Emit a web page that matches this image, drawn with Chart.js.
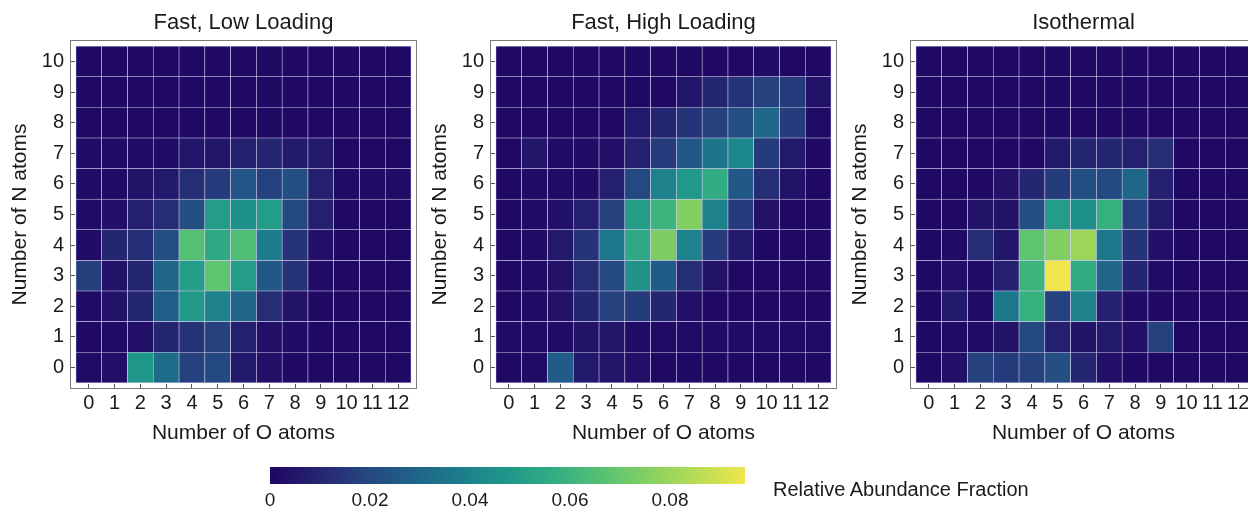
<!DOCTYPE html>
<html>
<head>
<meta charset="utf-8">
<script src="https://cdn.jsdelivr.net/npm/chart.js@4.4.1/dist/chart.umd.min.js"></script>
<style>
  html, body { margin: 0; padding: 0; background: #fff; overflow: hidden; }
  body { width: 1248px; height: 513px; position: relative; font-family: "Liberation Sans", Arial, sans-serif; }
  .panel { position: absolute; top: 0; width: 420px; height: 460px; }
  #cbWrap { position: absolute; left: 250px; top: 455px; width: 540px; height: 58px; }
  #cbLabel { position: absolute; left: 773px; top: 477px; font-size: 20px; line-height: 24px; color: #1a1a1a; white-space: nowrap; }
</style>
</head>
<body>
<div class="panel" style="left:0px"><canvas id="p0"></canvas></div>
<div class="panel" style="left:420px"><canvas id="p1"></canvas></div>
<div class="panel" style="left:840px"><canvas id="p2"></canvas></div>
<div id="cbWrap"><canvas id="cb"></canvas></div>
<div id="cbLabel">Relative Abundance Fraction</div>
<script>
const FONT = '"Liberation Sans", Arial, sans-serif';
const TEXT = '#1a1a1a';

const oAtoms = [0, 1, 2, 3, 4, 5, 6, 7, 8, 9, 10, 11, 12];
// rows listed top to bottom, as in the picture
const nAtoms = [10, 9, 8, 7, 6, 5, 4, 3, 2, 1, 0];

const titles = ['Fast, Low Loading', 'Fast, High Loading', 'Isothermal'];

const fastLow = [
  [0.001, 0.001, 0.001, 0.001, 0.001, 0.001, 0.001, 0.001, 0.001, 0.001, 0.001, 0.001, 0.001],
  [0.001, 0.001, 0.001, 0.001, 0.001, 0.001, 0.001, 0.001, 0.001, 0.001, 0.001, 0.001, 0.001],
  [0.001, 0.001, 0.001, 0.001, 0.001, 0.001, 0.001, 0.001, 0.001, 0.001, 0.001, 0.001, 0.001],
  [0.002, 0.002, 0.002, 0.002, 0.005, 0.005, 0.008, 0.010, 0.006, 0.006, 0.001, 0.001, 0.001],
  [0.002, 0.002, 0.004, 0.006, 0.012, 0.016, 0.024, 0.018, 0.022, 0.008, 0.002, 0.002, 0.002],
  [0.002, 0.003, 0.008, 0.012, 0.022, 0.050, 0.045, 0.050, 0.020, 0.008, 0.001, 0.001, 0.001],
  [0.002, 0.010, 0.012, 0.022, 0.066, 0.055, 0.065, 0.038, 0.014, 0.003, 0.001, 0.001, 0.001],
  [0.017, 0.004, 0.010, 0.030, 0.050, 0.068, 0.050, 0.025, 0.014, 0.002, 0.001, 0.001, 0.001],
  [0.002, 0.004, 0.010, 0.027, 0.048, 0.040, 0.030, 0.012, 0.004, 0.001, 0.001, 0.001, 0.001],
  [0.001, 0.002, 0.003, 0.010, 0.014, 0.018, 0.008, 0.003, 0.002, 0.001, 0.001, 0.001, 0.001],
  [0.002, 0.003, 0.047, 0.032, 0.018, 0.020, 0.006, 0.003, 0.001, 0.001, 0.001, 0.001, 0.001]
];

const fastHigh = [
  [0.001, 0.001, 0.001, 0.001, 0.001, 0.001, 0.001, 0.001, 0.001, 0.001, 0.002, 0.001, 0.001],
  [0.001, 0.001, 0.001, 0.001, 0.001, 0.001, 0.001, 0.005, 0.010, 0.014, 0.018, 0.016, 0.004],
  [0.001, 0.001, 0.001, 0.001, 0.001, 0.006, 0.010, 0.014, 0.018, 0.022, 0.030, 0.016, 0.002],
  [0.001, 0.005, 0.002, 0.002, 0.003, 0.008, 0.016, 0.025, 0.035, 0.042, 0.016, 0.006, 0.001],
  [0.001, 0.002, 0.002, 0.002, 0.008, 0.020, 0.040, 0.048, 0.056, 0.025, 0.012, 0.004, 0.001],
  [0.001, 0.002, 0.003, 0.008, 0.018, 0.050, 0.060, 0.075, 0.040, 0.016, 0.004, 0.001, 0.001],
  [0.001, 0.002, 0.006, 0.014, 0.036, 0.055, 0.074, 0.040, 0.016, 0.006, 0.001, 0.001, 0.001],
  [0.001, 0.002, 0.004, 0.012, 0.020, 0.046, 0.026, 0.012, 0.004, 0.001, 0.001, 0.001, 0.001],
  [0.001, 0.002, 0.004, 0.010, 0.018, 0.016, 0.010, 0.003, 0.001, 0.001, 0.001, 0.001, 0.001],
  [0.002, 0.002, 0.002, 0.004, 0.005, 0.002, 0.002, 0.002, 0.002, 0.002, 0.002, 0.002, 0.002],
  [0.001, 0.002, 0.026, 0.006, 0.005, 0.003, 0.001, 0.001, 0.001, 0.001, 0.001, 0.001, 0.001]
];

const isothermal = [
  [0.001, 0.001, 0.001, 0.001, 0.001, 0.001, 0.001, 0.001, 0.001, 0.001, 0.001, 0.001, 0.001],
  [0.001, 0.001, 0.001, 0.001, 0.001, 0.001, 0.001, 0.001, 0.001, 0.001, 0.001, 0.001, 0.001],
  [0.001, 0.001, 0.001, 0.001, 0.001, 0.001, 0.001, 0.001, 0.001, 0.001, 0.001, 0.001, 0.001],
  [0.001, 0.001, 0.001, 0.001, 0.001, 0.006, 0.010, 0.010, 0.008, 0.012, 0.001, 0.001, 0.001],
  [0.001, 0.001, 0.001, 0.004, 0.010, 0.016, 0.022, 0.020, 0.030, 0.008, 0.001, 0.001, 0.001],
  [0.001, 0.001, 0.004, 0.004, 0.022, 0.050, 0.045, 0.058, 0.018, 0.006, 0.001, 0.001, 0.001],
  [0.001, 0.002, 0.012, 0.005, 0.068, 0.075, 0.080, 0.036, 0.014, 0.003, 0.001, 0.001, 0.001],
  [0.001, 0.003, 0.002, 0.008, 0.060, 0.095, 0.056, 0.030, 0.010, 0.002, 0.001, 0.001, 0.001],
  [0.001, 0.006, 0.002, 0.036, 0.058, 0.018, 0.040, 0.008, 0.002, 0.001, 0.001, 0.001, 0.001],
  [0.001, 0.002, 0.002, 0.004, 0.020, 0.008, 0.004, 0.006, 0.003, 0.018, 0.001, 0.001, 0.001],
  [0.001, 0.003, 0.018, 0.016, 0.018, 0.022, 0.010, 0.003, 0.001, 0.001, 0.001, 0.001, 0.001]
];

const cbMax = 0.095;
const cbTicks = [0, 0.02, 0.04, 0.06, 0.08];

// colour ramp, dark indigo -> teal -> green -> yellow
const rampStops = [
  [0.00, [31, 6, 100]],
  [0.10, [37, 36, 113]],
  [0.20, [37, 70, 128]],
  [0.30, [31, 98, 137]],
  [0.40, [28, 125, 140]],
  [0.50, [31, 151, 138]],
  [0.60, [51, 174, 130]],
  [0.70, [86, 193, 115]],
  [0.80, [134, 209, 96]],
  [0.90, [185, 220, 85]],
  [1.00, [239, 230, 76]]
];

function rampColor(t) {
  t = Math.max(0, Math.min(1, t));
  for (let i = 1; i < rampStops.length; i++) {
    const [p1, c1] = rampStops[i];
    const [p0, c0] = rampStops[i - 1];
    if (t <= p1) {
      const f = (t - p0) / (p1 - p0);
      const c = c0.map((v, k) => Math.round(v + (c1[k] - v) * f));
      return `rgb(${c[0]},${c[1]},${c[2]})`;
    }
  }
  return 'rgb(239,230,76)';
}

const framePlugin = {
  id: 'frame',
  afterDraw(chart) {
    const a = chart.chartArea;
    const ctx = chart.ctx;
    ctx.save();
    ctx.strokeStyle = '#7a7a7a';
    ctx.lineWidth = 1;
    ctx.strokeRect(Math.round(a.left) + 0.5, Math.round(a.top) + 0.5, Math.round(a.right - a.left) - 1, Math.round(a.bottom - a.top) - 1);
    ctx.restore();
  }
};

function makePanel(id, title, values) {
  const cells = [];
  const colors = [];
  nAtoms.forEach((n, r) => {
    oAtoms.forEach((o, c) => {
      cells.push({ x: o, y: [n - 0.5, n + 0.5] });
      colors.push(rampColor(values[r][c] / cbMax));
    });
  });

  const tickFont = { family: FONT, size: 20 };
  const titleFont = { family: FONT, size: 21 };

  new Chart(document.getElementById(id), {
    type: 'bar',
    data: {
      datasets: [{
        xAxisID: 'x',
        yAxisID: 'y',
        data: cells,
        backgroundColor: colors,
        borderColor: 'rgba(214, 204, 240, 0.95)',
        borderWidth: 0.6,
        borderSkipped: false,
        barPercentage: 1,
        categoryPercentage: 1
      }]
    },
    options: {
      responsive: true,
      maintainAspectRatio: false,
      animation: false,
      layout: { padding: { left: 0, right: 3, top: 0, bottom: 0 } },
      plugins: {
        legend: { display: false },
        tooltip: { enabled: false }
      },
      scales: {
        x: {
          type: 'linear',
          position: 'bottom',
          min: -0.73,
          max: 12.73,
          offset: false,
          afterBuildTicks: axis => { axis.ticks = oAtoms.map(v => ({ value: v })); },
          afterFit: s => { s.height = 71; },
          ticks: { autoSkip: false, maxRotation: 0, padding: 7, color: TEXT, font: tickFont },
          grid: { offset: false, drawOnChartArea: false, drawTicks: true, tickLength: -5, color: '#555' },
          border: { display: false },
          title: { display: true, text: 'Number of O atoms', color: TEXT, font: titleFont, padding: { top: 0, bottom: 14 } }
        },
        y: {
          type: 'linear',
          min: -0.7,
          max: 10.7,
          afterBuildTicks: axis => { axis.ticks = nAtoms.map(v => ({ value: v })); },
          afterFit: s => { s.width = 70; },
          ticks: { autoSkip: false, padding: 11, color: TEXT, font: tickFont },
          grid: { drawOnChartArea: false, drawTicks: true, tickLength: -5, color: '#555' },
          border: { display: false },
          title: { display: true, text: 'Number of N atoms', color: TEXT, font: titleFont, padding: { top: 8, bottom: 0 } }
        },
        // top axis only carries the panel title, centred over the plot area
        top: {
          type: 'linear',
          position: 'top',
          display: true,
          afterFit: s => { s.height = 40; },
          ticks: { display: false },
          grid: { display: false, drawTicks: false },
          border: { display: false },
          title: {
            display: true, text: title, color: TEXT,
            font: { family: FONT, size: 22, lineHeight: 1.2 },
            padding: { top: 10, bottom: 0 }
          }
        }
      }
    },
    plugins: [framePlugin]
  });
}

makePanel('p0', titles[0], fastLow);
makePanel('p1', titles[1], fastHigh);
makePanel('p2', titles[2], isothermal);

// colour bar
new Chart(document.getElementById('cb'), {
  type: 'bar',
  data: {
    labels: [''],
    datasets: [{
      data: [[0, cbMax]],
      borderWidth: 0,
      barPercentage: 1,
      categoryPercentage: 1,
      backgroundColor: context => {
        const area = context.chart.chartArea;
        if (!area) return null;
        const g = context.chart.ctx.createLinearGradient(area.left, 0, area.right, 0);
        rampStops.forEach(([p, c]) => g.addColorStop(p, `rgb(${c[0]},${c[1]},${c[2]})`));
        return g;
      }
    }]
  },
  options: {
    indexAxis: 'y',
    responsive: true,
    maintainAspectRatio: false,
    animation: false,
    layout: { padding: { left: 20, right: 45, top: 12, bottom: 0 } },
    plugins: { legend: { display: false }, tooltip: { enabled: false } },
    scales: {
      x: {
        type: 'linear',
        min: 0,
        max: cbMax,
        afterBuildTicks: axis => { axis.ticks = cbTicks.map(v => ({ value: v })); },
        afterFit: s => { s.height = 29; },
        ticks: {
          autoSkip: false, maxRotation: 0, padding: 5, color: TEXT,
          font: { family: FONT, size: 19 },
          callback: v => (v === 0 ? '0' : v.toFixed(2))
        },
        grid: { display: false, drawTicks: false },
        border: { display: false }
      },
      y: { display: false, offset: true }
    }
  }
});
</script>
</body>
</html>
